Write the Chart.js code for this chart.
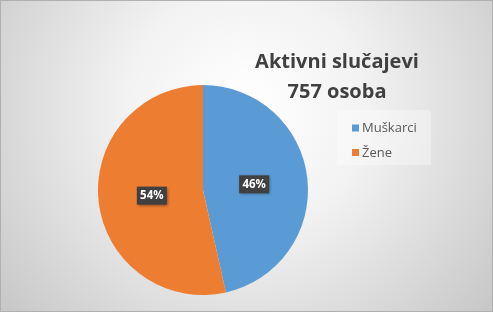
<!DOCTYPE html>
<html>
<head>
<meta charset="utf-8">
<script src="https://cdn.jsdelivr.net/npm/chart.js@4/dist/chart.umd.min.js"></script>
<style>
  html, body { margin: 0; padding: 0; background: #fff; }
  #wrap { width: 493px; height: 312px; }
</style>
</head>
<body>
<div id="wrap"><canvas id="pie" width="493" height="312"></canvas></div>
<script>
const categories = ['Muškarci', 'Žene'];
const counts = [352, 405];
const colors = ['#5B9BD5', '#ED7D31'];
const titleLines = ['Aktivni slučajevi', '757 osoba'];

const FONT = '"Open Sans", "Noto Sans", sans-serif';

// radial grey backdrop like the Excel chart area
const backdrop = {
  id: 'backdrop',
  beforeDraw(chart) {
    const { ctx, width, height } = chart;
    ctx.save();
    const g = ctx.createRadialGradient(246, 110, 10, 246, 110, 330);
    g.addColorStop(0, '#ffffff');
    g.addColorStop(0.35, '#f2f2f2');
    g.addColorStop(1, '#c4c4c4');
    ctx.fillStyle = g;
    ctx.fillRect(0, 0, width, height);
    ctx.strokeStyle = '#b0b0b0';
    ctx.lineWidth = 1;
    ctx.strokeRect(0.5, 0.5, width - 1, height - 1);
    ctx.restore();
  },
};

// title and legend on the right
const sideText = {
  id: 'sideText',
  afterDraw(chart) {
    const { ctx } = chart;
    ctx.save();
    ctx.fillStyle = '#404040';
    ctx.font = `bold 20px ${FONT}`;
    ctx.textAlign = 'center';
    ctx.textBaseline = 'middle';
    ctx.fillText(titleLines[0], 337, 62);
    ctx.fillText(titleLines[1], 337, 92);

    // legend box
    ctx.fillStyle = 'rgba(255,255,255,0.35)';
    ctx.fillRect(337, 110, 94, 55);
    ctx.font = `13px ${FONT}`;
    ctx.textAlign = 'left';
    categories.forEach((name, i) => {
      const y = 128 + i * 24.5;
      ctx.fillStyle = colors[i];
      ctx.fillRect(352, y - 3.5, 7, 7);
      ctx.fillStyle = '#595959';
      ctx.fillText(name, 362, y + 0.5);
    });
    ctx.restore();
  },
};

// percent labels in dark boxes
const pctLabels = {
  id: 'pctLabels',
  afterDatasetsDraw(chart) {
    const { ctx } = chart;
    const meta = chart.getDatasetMeta(0);
    const total = counts.reduce((a, b) => a + b, 0);
    ctx.save();
    ctx.font = `bold 11.5px ${FONT}`;
    ctx.textAlign = 'center';
    ctx.textBaseline = 'middle';
    meta.data.forEach((arc, i) => {
      const p = arc.tooltipPosition();
      const x = arc.x + (p.x - arc.x) * 0.98;
      const y = arc.y + (p.y - arc.y) * 0.98;
      const text = Math.round(counts[i] / total * 100) + '%';
      const w = 30, h = 18;
      ctx.shadowColor = 'rgba(0,0,0,0.45)';
      ctx.shadowBlur = 3;
      ctx.shadowOffsetX = 1;
      ctx.shadowOffsetY = 1;
      ctx.fillStyle = '#404040';
      ctx.fillRect(x - w / 2, y - h / 2, w, h);
      ctx.shadowColor = 'transparent';
      ctx.fillStyle = '#ffffff';
      ctx.fillText(text, x, y + 0.5);
    });
    ctx.restore();
  },
};

new Chart(document.getElementById('pie'), {
  type: 'pie',
  data: {
    labels: categories,
    datasets: [{
      data: counts,
      backgroundColor: colors,
      borderWidth: 0,
    }],
  },
  options: {
    responsive: false,
    animation: false,
    layout: { padding: { left: 98, right: 185, top: 85, bottom: 17 } },
    plugins: {
      legend: { display: false },
      title: { display: false },
      tooltip: { enabled: false },
    },
  },
  plugins: [backdrop, pctLabels, sideText],
});
</script>
</body>
</html>
